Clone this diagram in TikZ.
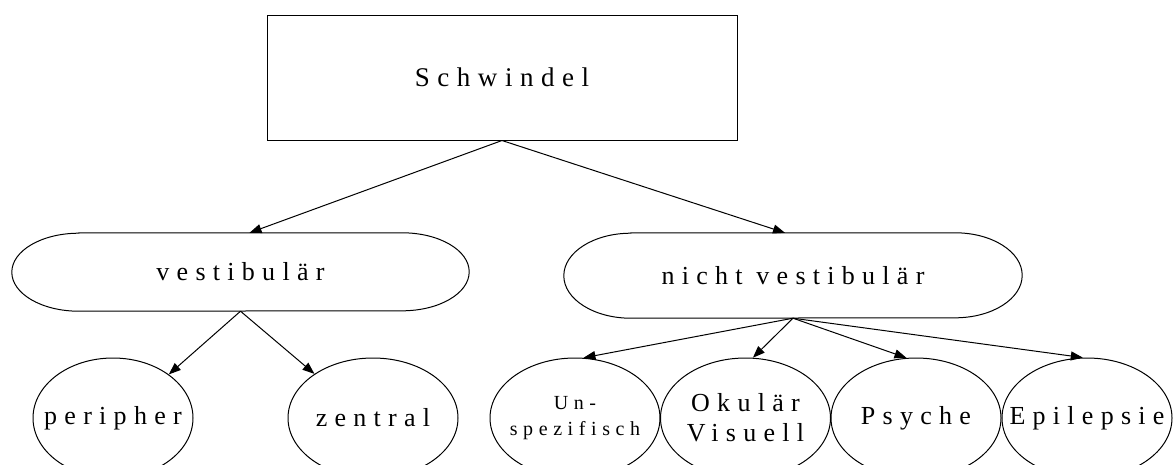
\documentclass[tikz,border=0pt]{standalone}
\usepackage{fontspec}
\setmainfont{Liberation Serif}
\newfontfamily\spacedserif{Liberation Serif}[LetterSpace=28]
\usetikzlibrary{arrows.meta,shapes.geometric}

% outline of a box with flat top and bottom and half-elliptic ends
\newcommand{\stadiumpath}[3]{% node name, cap x radius, cap y radius
  \draw[outline] ([xshift=#2]#1.north west) -- ([xshift=-#2]#1.north east)
    arc[start angle=90,end angle=-90,x radius=#2,y radius=#3]
    -- ([xshift=#2]#1.south west)
    arc[start angle=270,end angle=90,x radius=#2,y radius=#3] -- cycle;}

\begin{document}
\begin{tikzpicture}[x=1pt,y=-1pt,
  outline/.style={draw=black,line width=1pt},
  bigtext/.style={font=\spacedserif\fontsize{26}{30}\selectfont,align=center,inner sep=0pt},
  smalltext/.style={font=\spacedserif\fontsize{20}{26}\selectfont,align=center,inner sep=0pt},
  rootbox/.style={outline,rectangle,minimum width=470pt,minimum height=125pt,
    font=\spacedserif\fontsize{27}{30}\selectfont},
  stadium/.style={rectangle,bigtext},
  leaf/.style={outline,ellipse,inner sep=0pt,minimum width=170pt,minimum height=120pt},
  edge/.style={draw=black,line width=1pt,-{Triangle[length=12pt,width=9pt]}},
]
\useasboundingbox (0,0) rectangle (1173,464);
\clip (0,0) rectangle (1173,464);

% root
\node[rootbox] (root) at (502,77.5) {Schwindel};

% second level
\node[stadium,minimum width=457pt,minimum height=78pt] (vest) at (240.5,272) {vestibulär};
\node[stadium,minimum width=458pt,minimum height=85pt] (nvest) at (793,275.5) {nicht vestibulär};
\stadiumpath{vest}{67pt}{39pt}
\stadiumpath{nvest}{67pt}{42.5pt}

% leaves
\node[leaf,minimum width=160pt,label={[name=peritext,bigtext]center:peripher}] (peri) at (113,418) {};
\node[leaf,label={[name=zenttext,bigtext]center:zentral}] (zent) at (373,418) {};
\node[leaf,label={[name=unsptext,smalltext]center:{Un-\\spezifisch}}] (unsp) at (575,418) {};
\node[leaf,label={[name=okutext,bigtext]center:{Okulär\\Visuell}}] (oku) at (745.5,418) {};
\node[leaf,label={[name=psytext,bigtext]center:Psyche}] (psy) at (916,418) {};
\node[leaf,label={[name=epitext,bigtext]center:Epilepsie}] (epi) at (1087,418) {};

% connectors
\draw[edge] (root.south) -- ([xshift=9pt]vest.north);
\draw[edge] (root.south) -- ([xshift=-8pt]nvest.north);
\draw[edge] (vest.south) -- (peri.38);
\draw[edge] (vest.south) -- (zent.143);
\draw[edge] (nvest.south) -- (unsp.82);
\draw[edge] (nvest.south) -- (oku.83);
\draw[edge] (nvest.south) -- (psy.99);
\draw[edge] (nvest.south) -- (epi.94);
\end{tikzpicture}
\end{document}
